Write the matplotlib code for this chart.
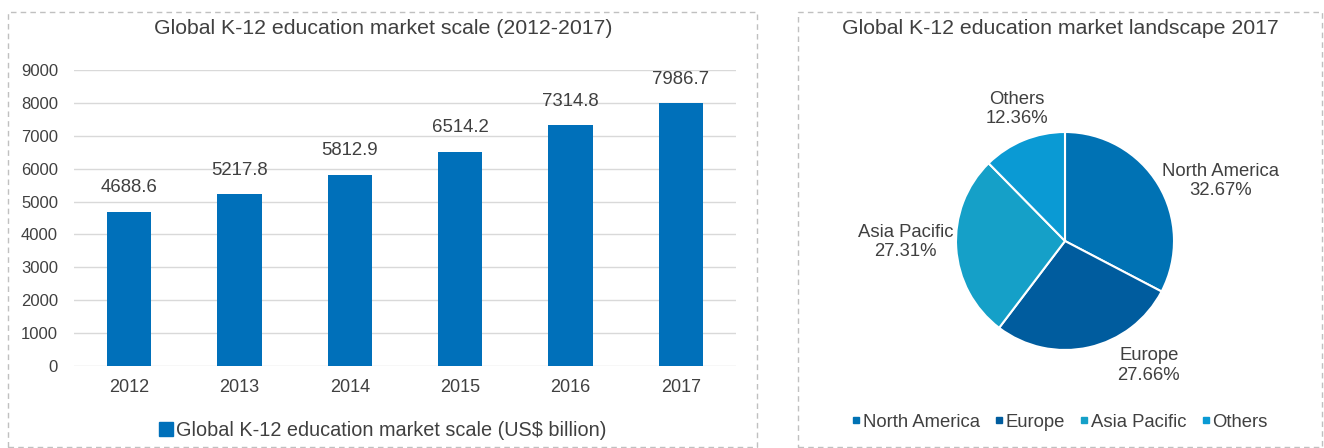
import matplotlib

matplotlib.use("Agg")

import matplotlib.pyplot as plt  # noqa: E402
import numpy as np  # noqa: E402
from matplotlib.lines import Line2D  # noqa: E402
from matplotlib.patches import Rectangle  # noqa: E402

# ---------- Data ----------

YEARS = ["2012", "2013", "2014", "2015", "2016", "2017"]
MARKET_SCALE = [4688.6, 5217.8, 5812.9, 6514.2, 7314.8, 7986.7]
BAR_TITLE = "Global K-12 education market scale (2012-2017)"
BAR_LEGEND = "Global K-12 education market scale (US$ billion)"

REGIONS = ["North America", "Europe", "Asia Pacific", "Others"]
SHARES = [32.67, 27.66, 27.31, 12.36]
PIE_TITLE = "Global K-12 education market landscape 2017"

# ---------- Style ----------

BAR_COLOR = "#0070BA"
PIE_COLORS = ["#0072B4", "#005C9E", "#15A0C8", "#0A9AD4"]
TEXT = "#404040"
BORDER = "#C0C0C0"
# label placement in pie-radius units (data labels sit outside the wedges)
LABEL_XY = [(1.43, 0.55), (0.77, -1.14), (-1.46, -0.01), (-0.44, 1.21)]

plt.rcParams["font.family"] = ["Liberation Sans", "DejaVu Sans"]

W, H = 1324, 448
fig = plt.figure(figsize=(W / 100, H / 100), dpi=100)


def px_rect(x0, y0, x1, y1):
    """pixel box (top-left origin) -> figure coords [l, b, w, h]"""
    return [x0 / W, 1 - y1 / H, (x1 - x0) / W, (y1 - y0) / H]


# dashed panel borders
for x0, x1 in [(8, 757), (798, 1322)]:
    l, b, w, h = px_rect(x0, 12, x1, 447)
    fig.patches.append(
        Rectangle((l, b), w, h, transform=fig.transFigure, fill=False,
                  edgecolor=BORDER, linestyle=(0, (4, 3)), linewidth=1.0)
    )

# ---------- Bar chart ----------

ax = fig.add_axes(px_rect(74, 70, 736, 366))
x = np.arange(len(YEARS))
ax.bar(x, MARKET_SCALE, width=0.4, color=BAR_COLOR, zorder=3)
ax.set_xlim(-0.5, len(YEARS) - 0.5)
ax.set_ylim(0, 9000)
ax.set_yticks(range(0, 9001, 1000))
ax.set_xticks(x)
ax.set_xticklabels(YEARS)
ax.tick_params(axis="x", length=0, pad=9, labelsize=13, labelcolor=TEXT)
ax.tick_params(axis="y", length=0, pad=11.5, labelsize=12, labelcolor=TEXT)
ax.grid(axis="y", color="#D9D9D9", linewidth=1.0, zorder=0)
for s in ax.spines.values():
    s.set_visible(False)
for i, v in enumerate(MARKET_SCALE):
    ax.text(i, v + 480, f"{v:.1f}", ha="center", va="bottom",
            fontsize=13.4, color=TEXT)

fig.text(383 / W, 1 - 28 / H, BAR_TITLE, ha="center", va="center",
         fontsize=15.3, color=TEXT)
fig.legend(
    [Line2D([], [], marker="s", linestyle="none", markersize=10,
            color=BAR_COLOR)],
    [BAR_LEGEND],
    loc="center", bbox_to_anchor=(383 / W, 1 - 430 / H), frameon=False,
    fontsize=14.3, handlelength=0.6, handletextpad=0.2, labelcolor=TEXT,
)

# ---------- Pie chart ----------

pax = fig.add_axes(px_rect(956, 132, 1174, 350))
wedges, _ = pax.pie(
    SHARES, colors=PIE_COLORS, startangle=90, counterclock=False,
    radius=1.0, wedgeprops=dict(edgecolor="white", linewidth=1.5),
)
pax.set_xlim(-1, 1)
pax.set_ylim(-1, 1)
pax.set_aspect("equal")
for (lx, ly), name, share in zip(LABEL_XY, REGIONS, SHARES):
    pax.text(lx, ly, f"{name}\n{share:.2f}%", ha="center", va="center",
             fontsize=13.3, color=TEXT, linespacing=1.2)

fig.text(1060 / W, 1 - 28 / H, PIE_TITLE, ha="center", va="center",
         fontsize=15.3, color=TEXT)
pie_handles = [
    Line2D([], [], marker="s", linestyle="none", markersize=5, color=c)
    for c in PIE_COLORS
]
fig.legend(
    pie_handles, REGIONS, loc="center", bbox_to_anchor=(1060 / W, 1 - 422 / H),
    ncol=4, frameon=False, fontsize=13.3, handlelength=0.4,
    handletextpad=0.15, columnspacing=0.85, labelcolor=TEXT,
)

fig.savefig("out.png", dpi=100, facecolor="white")
